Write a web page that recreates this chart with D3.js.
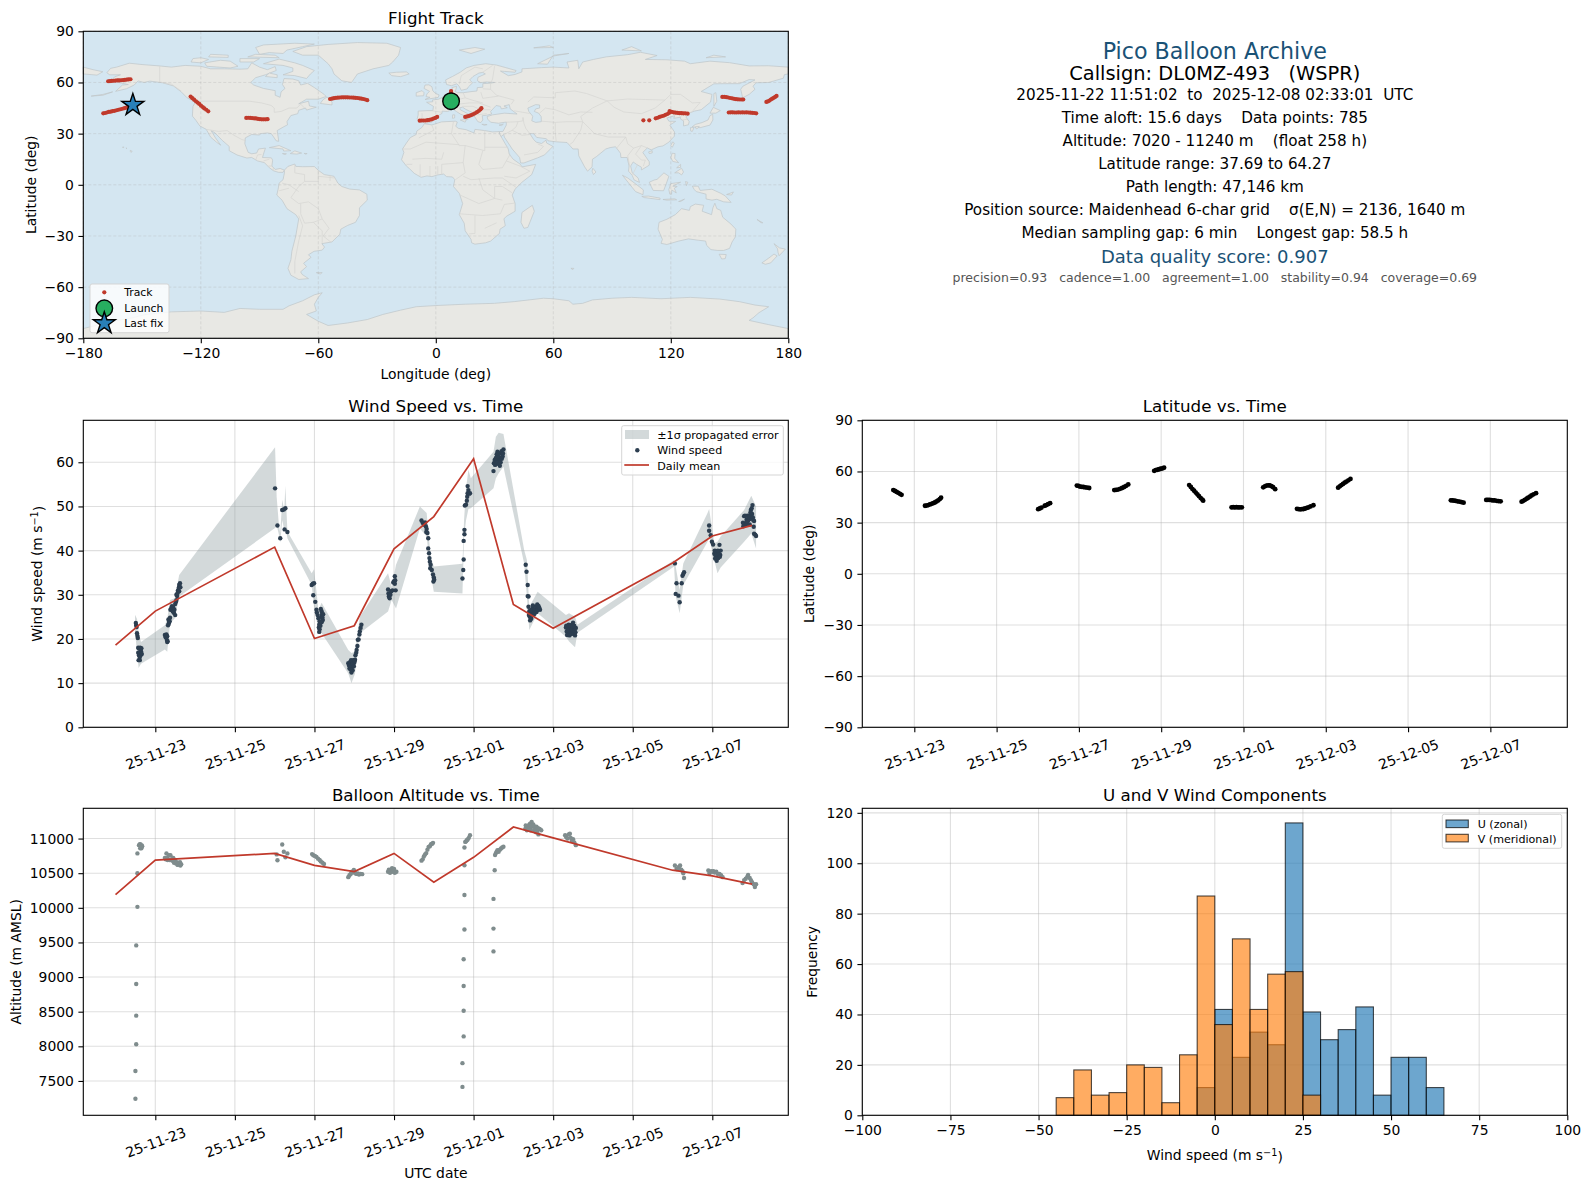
<!DOCTYPE html>
<html>
<head>
<meta charset="utf-8">
<title>Pico Balloon Archive</title>
<script src="https://cdn.jsdelivr.net/npm/d3@7"></script>
<style>
  html, body { margin: 0; padding: 0; background: #fff; }
  svg { display: block; font-family: "DejaVu Sans", sans-serif; }
  text { white-space: pre; }
</style>
</head>
<body>
<div id="chart"></div>
<script>
// times are fractional days after 2025-11-23 00:00 UTC
const dateTicks = ['2025-11-23', '2025-11-25', '2025-11-27', '2025-11-29', '2025-12-01', '2025-12-03', '2025-12-05', '2025-12-07']
const meanDays = [-1, 0, 3, 4, 5, 6, 7, 8, 9, 10, 13, 14, 15]
const meanWind = [18.6, 26.3, 40.8, 20.1, 23, 40.4, 47.7, 60.8, 27.8, 22.4, 37.2, 43.3, 45.7]
const meanAltitude = [10190, 10690, 10786, 10614, 10524, 10786, 10371, 10729, 11167, 11010, 10543, 10462, 10343]

const windPoints = [
  [-0.49,23.6],[-0.48,23.1],[-0.47,22.7],[-0.46,21.3],[-0.45,20.7],[-0.44,20.2],[-0.43,18],[-0.41,17.9],[-0.38,18],[-0.35,17.9],
  [-0.36,17.2],[-0.39,17],[-0.43,16.9],[-0.41,16.3],[-0.37,16.3],[-0.34,16.6],[-0.39,15.9],[-0.42,15.2],[-0.39,15.2],
  [0.24,20.9],[0.26,20.4],[0.28,21],[0.3,20.6],[0.29,19.8],[0.3,19.3],[0.31,19.5],[0.34,23.5],[0.32,23.1],[0.36,24],[0.33,24.4],[0.37,24.8],[0.35,23.9],
  [0.38,26.6],[0.4,26.9],[0.42,27.4],[0.45,27.1],[0.48,26.6],[0.5,27.9],[0.47,25.9],[0.5,25.4],[0.44,26.2],[0.52,28.4],[0.53,28.8],
  [0.55,29.7],[0.53,30],[0.56,30.4],[0.57,31],[0.59,31.6],[0.6,32.2],[0.62,32.6],[0.63,31.7],[0.6,30.8],
  [3.01,54.1],[3.07,45.7],[3.14,42.8],[3.19,49.2],[3.23,49.3],[3.27,49.6],[3.25,44.8],[3.32,44.2],
  [3.93,32.2],[3.96,32.5],[3.99,32.6],[3.97,29.9],[4.02,28.4],[4.05,26.6],[4.06,26],[4.08,25.4],[4.1,24.7],[4.13,24],[4.12,23.2],[4.11,22.6],
  [4.13,22.2],[4.12,21.6],[4.15,23],[4.17,25],[4.18,26.3],[4.19,25.6],[4.2,24.9],[4.22,25.6],[4.21,24.3],[4.18,23.8],[4.16,26.8],
  [4.85,14.5],[4.87,14],[4.88,13.3],[4.9,14.8],[4.92,14.1],[4.93,12.4],[4.96,12.9],[4.94,13.6],[4.97,14],[4.95,15],[4.98,15.2],[5,14.6],[5.02,15.3],
  [4.89,13.9],[4.91,13.1],[4.92,15.2],[4.96,14.4],[4.99,13.8],[5.01,15],
  [5.03,16.3],[5.05,16.9],[5.06,17.5],[5.08,18.4],[5.09,19.8],[5.11,19.9],[5.13,21],[5.14,21.7],[5.16,22.5],[5.18,23.2],
  [5.85,31.2],[5.86,30.3],[5.87,29.6],[5.89,29.2],[5.91,30],[5.93,30.8],[5.96,31],[6,33.1],[5.98,32.8],[6.02,32.5],[6.03,33.3],[6.02,34.2],[6.04,31],
  [6.69,46.8],[6.72,46.3],[6.75,45.9],[6.78,46.4],[6.8,45.5],[6.82,44.9],[6.81,44.2],[6.84,44],[6.86,42.8],[6.86,40.5],[6.88,39.4],[6.89,38.3],
  [6.9,37.5],[6.92,36.8],[6.91,36],[6.95,35.6],[6.98,34.6],[7,33.9],[6.99,33],[7.01,33.4],
  [7.72,33.7],[7.74,35.6],[7.75,38],[7.75,42.2],[7.77,43.7],[7.77,44.7],[7.78,50.2],[7.81,50.4],[7.83,51.3],[7.84,52.2],[7.85,53],[7.87,53.7],[7.85,54.6],[7.89,52.9],[7.91,53],
  [8.5,58],[8.51,59.8],[8.53,60.5],[8.56,60],[8.56,61],[8.58,61.8],[8.6,62.4],[8.61,60.6],[8.63,61.2],[8.65,60.3],[8.66,59.2],[8.67,62],[8.69,61],[8.7,62.5],[8.73,61.3],[8.75,62.9],
  [8.54,59.4],[8.57,59.6],[8.59,59.9],[8.62,62],[8.64,59.9],[8.68,60],[8.71,60.8],[8.74,62],
  [9.31,36.8],[9.33,35.2],[9.36,32.2],[9.36,29.7],[9.38,29.6],[9.38,27.3],[9.4,26.3],[9.42,24.2],[9.41,25],[9.44,25.7],[9.46,26.4],[9.48,26.9],[9.5,26.1],[9.53,26.7],[9.57,27.3],[9.6,27.8],[9.62,26.8],[9.67,26.6],
  [9.39,25.4],[9.43,26.5],[9.45,24.6],[9.47,25.5],[9.49,27.6],[9.52,25.6],[9.55,26.4],[9.58,26.1],[9.6,26.5],[9.63,27.5],[9.65,27.1],
  [10.32,22.6],[10.34,21.7],[10.36,22.9],[10.38,21],[10.4,22.3],[10.42,21.4],[10.44,22.6],[10.46,23.1],[10.48,21.3],[10.5,23.7],[10.52,22.2],[10.55,20.8],[10.57,22.5],
  [10.33,23],[10.35,20.9],[10.37,22],[10.39,23.2],[10.41,20.8],[10.43,23.1],[10.45,21.1],[10.47,22.1],[10.49,22.9],[10.51,21.2],[10.53,23],[10.54,21.9],[10.56,21.5],
  [13.06,37.1],[13.1,32.6],[13.08,30.2],[13.15,29.8],[13.18,28.3],[13.23,32.6],[13.25,34.3],[13.27,34.7],[13.29,35.1],
  [13.92,45.7],[13.92,44.5],[13.96,43.5],[13.99,42],[14.02,41.4],[14.05,39.3],[14.08,38.9],[14.11,37.7],[14.1,39.5],[14.13,38.4],[14.16,39.8],[14.18,41.3],[14.2,39],[14.21,40],
  [14.06,40],[14.07,38.2],[14.09,39.9],[14.12,39.2],[14.14,40],[14.15,38.3],[14.17,39.2],[14.19,38.6],
  [14.78,45.5],[14.8,47.8],[14.8,45.8],[14.84,46.2],[14.86,47],[14.88,47.9],[14.9,46.8],[14.93,47.1],[14.95,48.1],[14.97,49.2],[14.98,47.4],[15.01,50.3],[15,48.3],[15.05,46.7],[15.04,45.4],[15.05,43.8],[15.08,43.6],[15.1,43.3],
  [14.77,46.3],[14.82,47.9],[14.85,45.9],[14.87,46.5],[14.91,47.6],[14.94,45.9],[14.96,48.7],[14.99,49.6],[15.02,47.5],[15.03,46.9]
]

// [day, lower, upper] outline of the 1 sigma band
const windBand = [
  [-0.51,21.8,25.5],[-0.46,17,24.5],[-0.42,13.4,21.5],[-0.36,14.4,19.3],[0.24,17.6,23.1],[0.3,17.1,24.5],[0.37,23.5,28.8],[0.49,24.7,29.2],[0.6,29.6,34.5],
  [3.01,45.1,63.4],[3.05,45.8,52.2],[3.11,43.5,45.4],[3.14,41.8,44],[3.19,46.9,51.5],[3.24,44.7,49.2],[3.27,45.4,54.6],[3.32,42.8,44.3],
  [3.93,32.2,34.9],[3.99,27.3,35.8],[4.1,22,26.6],[4.18,21.3,28.2],[4.85,12.2,17.5],[4.93,10,16.8],[5.02,12.2,17.1],[5.14,21.3,25],[5.85,26.2,34.9],[5.94,28.8,31.8],[6.05,26.9,36.8],
  [6.65,45,50],[6.82,43.2,48.5],[6.92,34.9,38.6],[7,30.7,36.4],[7.72,30.3,37],[7.76,43,46.9],[7.81,46.9,54.1],[7.87,49.4,58.3],[7.93,49.6,56.4],[8.5,54.1,62.4],[8.56,56.4,65.8],[8.63,57.5,66.7],[8.75,59,66.4],
  [9.27,37.1,40.2],[9.34,29.6,37.9],[9.4,22,27.3],[9.61,25.8,30.7],[10.32,20.5,25.4],[10.4,19.4,25.8],[10.55,18.1,25],[10.61,21.4,23.2],[13.04,36.4,37.9],[13.08,29.6,36.4],[13.18,25.8,31.1],[13.27,32.2,37.1],
  [13.88,42,48.5],[13.92,43.2,49.4],[14.05,37.9,41.7],[14.13,34.9,42],[14.21,36.2,43.2],[14.8,42,49.2],[14.98,43.9,52.4],[15.1,40.5,50]
]

const altitudePoints = [
  [-0.5,7243],[-0.5,7643],[-0.48,8029],[-0.48,8443],[-0.48,8900],[-0.48,9457],[-0.45,10014],[-0.45,10500],[-0.45,10786],
  [-0.41,10905],[-0.39,10919],[-0.37,10914],[-0.36,10880],[-0.34,10900],[-0.38,10860],[-0.35,10860],[-0.33,10890],
  [0.24,10720],[0.26,10700],[0.28,10786],[0.3,10720],[0.31,10690],[0.34,10760],[0.36,10690],[0.38,10760],[0.4,10700],[0.43,10680],[0.45,10720],[0.47,10650],[0.5,10690],[0.52,10640],[0.54,10660],[0.56,10620],[0.6,10640],[0.62,10660],[0.63,10610],[0.65,10630],
  [3.05,10771],[3.07,10686],[3.19,10914],[3.23,10810],[3.27,10729],[3.32,10786],
  [3.94,10776],[3.97,10760],[4.01,10750],[4.05,10735],[4.09,10710],[4.13,10690],[4.16,10670],[4.2,10650],[4.24,10633],
  [4.85,10443],[4.88,10470],[4.91,10490],[4.94,10520],[4.97,10510],[4.99,10548],[5.02,10510],[5.05,10490],[5.09,10495],[5.12,10480],[5.16,10490],[5.2,10486],
  [5.85,10520],[5.87,10550],[5.9,10505],[5.92,10550],[5.95,10571],[5.97,10520],[6,10560],[6.02,10505],[6.06,10520],
  [6.69,10681],[6.72,10700],[6.75,10740],[6.78,10770],[6.81,10790],[6.84,10840],[6.87,10880],[6.9,10890],[6.93,10920],[6.96,10925],[6.98,10938],
  [7.72,7414],[7.72,7757],[7.75,8143],[7.75,8514],[7.75,8871],[7.75,9257],[7.77,9686],[7.77,10186],[7.77,10614],[7.77,10871],[7.79,10952],[7.81,10960],[7.83,10975],[7.85,10986],[7.88,11010],[7.91,11048],
  [8.5,9371],[8.5,9700],[8.5,10129],[8.53,10543],[8.54,10762],[8.56,10790],[8.58,10810],[8.6,10833],[8.63,10810],[8.66,10840],[8.69,10857],[8.72,10870],[8.75,10881],
  [9.3,11140],[9.33,11160],[9.35,11175],[9.37,11130],[9.4,11200],[9.42,11215],[9.44,11160],[9.46,11240],[9.48,11190],[9.5,11205],[9.53,11170],[9.55,11130],[9.58,11170],[9.6,11110],[9.63,11060],[9.66,11140],[9.7,11120],
  [9.31,11190],[9.34,11120],[9.39,11140],[9.43,11120],[9.45,11190],[9.52,11120],[9.57,11090],[9.62,11150],
  [10.3,11048],[10.33,11020],[10.36,11000],[10.39,11060],[10.42,11070],[10.44,11010],[10.47,10970],[10.5,10990],[10.53,10945],[10.57,10905],
  [13.06,10610],[13.1,10560],[13.13,10558],[13.16,10590],[13.19,10610],[13.22,10550],[13.25,10530],[13.27,10500],[13.29,10430],
  [13.9,10538],[13.93,10500],[13.97,10530],[14,10520],[14.03,10530],[14.06,10510],[14.1,10520],[14.14,10490],[14.18,10490],[14.22,10470],[14.26,10443],
  [14.76,10357],[14.8,10400],[14.84,10420],[14.88,10450],[14.9,10476],[14.94,10430],[14.97,10400],[15,10370],[15.04,10340],[15.07,10330],[15.07,10300],[15.1,10340]
]

const latitudePoints = [
  [-0.51,49.1],[-0.47,48.6],[-0.43,48],[-0.39,47.5],[-0.35,46.9],[-0.31,46.3],
  [0.26,39.9],[0.3,40],[0.34,40.3],[0.38,40.7],[0.42,41],[0.46,41.4],[0.5,41.8],[0.54,42.4],[0.58,43],[0.62,43.8],[0.65,44.6],
  [3.01,37.9],[3.05,38.3],[3.09,38.8],[3.17,39.9],[3.21,40.3],[3.25,40.8],[3.3,41.4],
  [3.95,51.7],[3.99,51.5],[4.03,51.1],[4.07,51],[4.11,50.9],[4.15,50.7],[4.2,50.5],[4.25,50.3],
  [4.86,49.1],[4.9,49.2],[4.95,49.4],[5,49.8],[5.05,50.3],[5.1,50.9],[5.15,51.6],[5.2,52.4],
  [5.83,60.4],[5.87,60.8],[5.91,61],[5.95,61.3],[5.99,61.6],[6.03,61.8],[6.07,62.2],
  [6.68,52],[6.72,50.9],[6.76,49.7],[6.8,48.7],[6.84,47.6],[6.88,46.6],[6.92,45.5],[6.96,44.4],[7,43.5],[7.02,42.9],
  [7.71,39],[7.75,39.1],[7.79,39],[7.83,39.1],[7.87,39],[7.91,39],[7.96,39],
  [8.48,50.7],[8.52,51.3],[8.56,51.7],[8.6,51.9],[8.64,51.8],[8.68,51.4],[8.72,50.8],[8.77,49.6],
  [9.3,38.1],[9.34,37.9],[9.38,37.8],[9.42,37.9],[9.46,38],[9.5,38.3],[9.54,38.7],[9.58,39],[9.63,39.5],[9.7,40.2],
  [10.3,50.5],[10.34,51.3],[10.38,52],[10.42,52.7],[10.46,53.4],[10.5,54],[10.55,54.8],[10.6,55.6],
  [13.04,43.1],[13.08,43],[13.12,42.9],[13.16,42.7],[13.2,42.5],[13.25,42.3],[13.3,42],[13.35,41.7],
  [13.9,43.3],[13.94,43.3],[13.98,43.3],[14.02,43.2],[14.06,43],[14.1,43],[14.15,42.8],[14.2,42.6],[14.25,42.5],
  [14.76,42.3],[14.8,42.8],[14.84,43.4],[14.88,44],[14.92,44.6],[14.96,45.2],[15,45.9],[15.05,46.6],[15.11,47.3]
]

// [lon, lat]
const trackPoints = [
  [-167.3,60.7],[-166.4,60.8],[-165.5,60.9],[-164.5,61],[-163.6,61.1],[-162.6,61.2],[-161.7,61.2],[-160.7,61.3],[-159.7,61.4],[-158.8,61.5],[-157.8,61.7],[-156.9,61.8],[-155.9,61.9],
  [-169.8,41.9],[-168.9,42.1],[-168,42.4],[-167,42.7],[-166,42.9],[-165,43.2],[-164,43.4],[-163,43.7],[-162,44],[-161,44.3],[-160,44.6],[-159,44.9],[-158,45.2],[-157,45.5],[-156,45.9],
  [-125.2,51.7],[-124.3,50.8],[-123.4,49.9],[-122.5,49],[-121.7,48.2],[-120.8,47.4],[-119.9,46.4],[-119,45.6],[-118.2,44.8],[-117.2,44],[-116.2,43.1],
  [-96.8,39.2],[-95.8,39.3],[-94.8,39.2],[-93.8,39.1],[-92.8,39],[-91.8,38.9],[-90.8,38.6],[-89.8,38.5],[-88.8,38.4],[-87.8,38.4],[-86.8,38.4],[-85.9,38.5],
  [-54,50.3],[-53,50.5],[-52,50.8],[-51,51],[-50,51.1],[-49,51.2],[-48,51.3],[-47,51.3],[-46,51.3],[-45,51.3],[-44,51.2],[-43,51.2],[-42,51.1],[-41,51],[-40,50.9],[-39,50.7],[-38,50.5],[-37,50.3],[-36,50],[-35,49.6],
  [-8.2,37.6],[-7.2,37.7],[-6.2,37.7],[-5.2,37.7],[-4.2,37.9],[-3.2,38.1],[-2.2,38.4],[-1.2,38.8],[-0.2,39.2],[0.7,39.8],
  [7.8,55],[7.8,54.2],[7.8,53.4],
  [15,39.8],[16,40.1],[17,40.4],[18,40.8],[19,41.3],[20,41.9],[21,42.6],[22,43.4],[22.8,44.2],[23.3,44.9],
  [106,37.8],[109,37.8],[112.3,39],[113.3,39.3],[114.3,39.8],[115.3,40.2],[116.3,40.5],[117.3,41],[118.3,41.5],[119.2,42.2],[119.4,43.2],[120.4,42.8],[121.4,42.5],[122.4,42.3],[123.4,42.2],[124.4,42],[125.4,42],[126.4,41.9],[127.4,41.9],[128.6,41.7],
  [146.3,51.5],[147.3,51.6],[148.3,51.4],[149.3,51.2],[150.3,50.9],[151.3,50.7],[152.3,50.4],[153.3,50.2],[154.3,50.1],[155.3,50],[156.3,50],[157,50],
  [149.6,42.4],[150.6,42.5],[151.6,42.5],[152.6,42.4],[153.6,42.4],[154.6,42.5],[155.6,42.4],[156.6,42.5],[157.6,42.4],[158.6,42.5],[159.6,42.4],[160.6,42.3],[161.6,42.2],[162.6,42.1],[163.6,41.9],
  [168.8,48.6],[169.6,48.9],[170.4,49.4],[171.1,50],[171.8,50.5],[172.6,51],[173.3,51.5],[174,52.1]
]
const launchPoint = [7.8, 49]
const lastFixPoint = [-154.7, 46.8]

// histogram, 5 m/s bins
const histEdges = [-45,-40,-35,-30,-25,-20,-15,-10,-5,0,5,10,15,20,25,30,35,40,45,50,55,60]
const uCounts = [0,0,0,0,0,0,0,0,11,42,23,33,28,116,41,30,34,43,8,23,23,11]
const vCounts = [7,18,8,9,20,19,5,24,87,36,70,42,56,57,8,0,0,0,0,0,0,0]

const infoLines = [
  ['Pico Balloon Archive', 51, 22.2, '#1a5276'],
  ['Callsign: DL0MZ-493   (WSPR)', 73, 19.4, '#000'],
  ['2025-11-22 11:51:02  to  2025-12-08 02:33:01  UTC', 94.3, 15.2, '#000'],
  ['Time aloft: 15.6 days    Data points: 785', 117.3, 15.2, '#000'],
  ['Altitude: 7020 - 11240 m    (float 258 h)', 140.3, 15.2, '#000'],
  ['Latitude range: 37.69 to 64.27', 163.3, 15.2, '#000'],
  ['Path length: 47,146 km', 186.3, 15.2, '#000'],
  ['Position source: Maidenhead 6-char grid    σ(E,N) = 2136, 1640 m', 209.3, 15.2, '#000'],
  ['Median sampling gap: 6 min    Longest gap: 58.5 h', 232.3, 15.2, '#000'],
  ['Data quality score: 0.907', 257, 18, '#1a5276'],
  ['precision=0.93   cadence=1.00   agreement=1.00   stability=0.94   coverage=0.69', 277.7, 12.5, '#555555']
]

// rough world outline, [lon, lat]
const landShapes = [
  // north america
  [[-168,65.7],[-166,68.3],[-163,69],[-156.5,71.3],[-150,70.5],[-141,69.7],[-135,69],[-128,70],[-120,69.5],[-115,68],[-108,68],[-100,67.8],[-96,68],[-94,71.5],[-90,69],[-86,67.5],[-82,69.3],[-81.5,67],[-87,64.5],[-92,62.8],[-94.5,60],[-93,58.5],[-88,56.5],[-82,55.2],[-82,52.5],[-79.5,51.3],[-79,54.5],[-77,56.5],[-78.3,58.8],[-77.5,62.3],[-73,62],[-70,61],[-69,58.5],[-65.5,59.5],[-62,57],[-57,53],[-56,51.8],[-60,50.2],[-66,50.2],[-70,47.5],[-65,49],[-64.5,46.2],[-61,45.5],[-66,43.8],[-66.5,45],[-70,43.7],[-70.5,41.7],[-74,40.6],[-76,37],[-75.7,35.2],[-78,33.8],[-81,31.8],[-80.5,28],[-80.2,25.5],[-81.5,25.8],[-82.8,28],[-84,30],[-86,30.4],[-89.5,30],[-90,29.2],[-94,29.5],[-97.3,27.5],[-97.5,24],[-95.8,19],[-94,18.2],[-91.5,18.6],[-90.5,21],[-87,21.5],[-88,18],[-88.5,16],[-84,15.8],[-83.3,14.5],[-83.7,11],[-82,9],[-79.5,9.6],[-77.3,8.6],[-78,7.3],[-80.3,7.3],[-82.8,8.2],[-85,10],[-87.5,13],[-91,14],[-94,16],[-96.5,15.7],[-101.5,17.5],[-105.5,20],[-105.5,22.5],[-109,26],[-112.8,30.5],[-114.7,31.7],[-112.5,27.5],[-109.8,23.2],[-112,25],[-115,28],[-117.2,32.5],[-120.5,34.5],[-122.5,37.8],[-124.3,40.3],[-124,46],[-122.7,48.5],[-127,51],[-130,54.5],[-134,58],[-139.5,59.8],[-146,60.8],[-149,60],[-152,60.9],[-154,58.5],[-158,56.3],[-163.5,54.8],[-160,58.5],[-157,58.8],[-162,60],[-165.5,61.5],[-164,63.3],[-161,64.5],[-166.5,64.5]],
  // south america
  [[-77.3,8.6],[-75.5,10.8],[-72,12.2],[-71.5,10.8],[-68,10.6],[-62,10.7],[-60,8.5],[-57,6],[-52,5],[-50,1],[-48,-1],[-44,-2.5],[-39,-3],[-35.2,-5.5],[-35,-9],[-39,-13.5],[-39,-18],[-41,-22],[-45,-23.8],[-48.5,-26],[-49,-29],[-53,-33.5],[-58.2,-34.5],[-56.8,-36.5],[-58,-38.3],[-62.2,-39],[-65,-41],[-63.7,-42.5],[-67.5,-46],[-66,-48],[-69,-51],[-68.3,-52.5],[-65,-55],[-70,-55.5],[-74,-53],[-75.5,-49],[-74,-44],[-73.5,-39],[-71.5,-30],[-70,-20],[-71.5,-17.5],[-76,-14],[-78.5,-9],[-81.2,-6],[-80.5,-2.5],[-80,1],[-78,3],[-77.3,7]],
  // eurasia
  [[-9.5,38.7],[-9,41],[-9,43.2],[-4,43.5],[-1.5,43.5],[-1.2,46],[-4.7,48.4],[-1.5,48.7],[-1.8,49.7],[1.5,50.2],[3.5,51.4],[4.8,53],[8,53.6],[8.6,55.5],[8.2,57],[10.6,57.7],[10.3,56],[9.8,54.8],[11,54],[14,54],[18.5,54.7],[21,55],[21.2,57],[24,57.2],[24,59.3],[28,59.6],[30,60],[26,60.3],[22.8,59.9],[21.3,61],[21.5,63],[25.3,65],[24,65.9],[22,65.5],[19,63.5],[17.3,61.5],[18.8,59.8],[16.7,57.5],[16,56.2],[13,55.4],[11.8,58],[10.7,59.2],[8,58.1],[5.5,58.8],[5,61.5],[8.5,63.5],[12.5,66],[15.5,68.5],[19.5,70],[25.5,71],[31,70.2],[41,67],[40.5,66],[35,66.5],[33,66.7],[37,64],[40.5,64.7],[44,66.2],[44,68],[54,68.7],[60,69],[68,68.5],[67,72],[72.5,73],[73,68],[75,72],[80.5,73.5],[87,75],[98,76.3],[104.5,77.7],[113,75.8],[107,73.5],[118,73.3],[127,72.5],[130,71],[140,72.5],[150,71.6],[160,69.7],[170,69.8],[180,69],[180,65],[178,64.6],[177.5,62.5],[170,60],[163.5,59.8],[162,57.8],[163,56],[160,53],[156.7,51],[155.7,56],[156.8,57.8],[163,61.5],[160,61.7],[155,59.3],[148,59.3],[142,59.2],[135.5,54.7],[141,53],[140.3,48.5],[135.5,44],[132,43.2],[130,42.3],[127.7,39.8],[129.4,37],[129,35.2],[126.5,34.5],[126.5,37.5],[125,38.5],[125,39.6],[121.5,39],[122,40.5],[118,39.2],[119,37.3],[122.5,37.2],[119.5,35],[121.9,31],[121.8,28.5],[119,25],[116,22.8],[113.5,22.3],[110,20.5],[108,21.6],[105.7,19],[109,13.5],[109,11.5],[105,8.7],[105,10.3],[102.5,12],[100.8,13.4],[99.5,11],[100.3,7],[103.3,4],[104,1.4],[101.3,2.8],[100.3,5.5],[98.4,8],[98.7,11],[97.7,16],[94.5,16],[94.3,18.5],[91.8,22.3],[89,21.8],[86.8,21],[82,16.5],[80,15],[79.8,10.5],[77.5,8],[76,10.5],[73,17],[72.7,21],[70,21],[69,22.3],[67,24.8],[61.5,25.2],[57.3,25.8],[56.5,27],[51.5,27.8],[50,30],[48,30],[50,26.5],[51.3,25],[54,24.2],[56.3,26.2],[56.6,24.5],[59.8,22.5],[55.5,17.5],[52,15.8],[45,12.8],[43.3,12.8],[42.8,16],[39,21],[35,28],[34.7,29.5],[33,28],[32.5,30],[32.5,31.2],[34.3,31.3],[36,35],[36,36.8],[32,36.1],[28,36.7],[26.5,38.5],[26.2,40],[29,41],[35,42],[41.5,41.5],[38,44.5],[37.5,47],[34.8,46.2],[36.5,45.2],[33.5,44.5],[33,46],[30.8,46.5],[28,43],[28.5,41.5],[26,40.8],[23.7,40.5],[24,38],[23,36.5],[21.5,37],[19.5,40.5],[19.4,42],[15.2,44.3],[13.7,45.5],[12.3,45.2],[12.5,44],[16,41.9],[18.5,40.2],[16.8,40],[17,38.9],[15.7,38],[15.8,40],[12.5,41.5],[10.5,43],[8.8,44.4],[6,43],[3.2,43.2],[3.2,41.9],[0,39.8],[-0.5,38.3],[-2,36.8],[-5.5,36],[-6.5,37],[-9,37]],
  // africa
  [[-5.9,35.8],[-2,35.1],[3,36.9],[10,37.3],[11,36.8],[10.2,34.3],[11.5,33.1],[15.5,32.3],[19.5,30.4],[20,32.5],[25,31.8],[29,31],[32.5,31.2],[32.5,29.9],[34,27],[37,21],[37.5,18],[39.5,15],[43.2,12],[44,10.5],[51,12],[49,6],[44,1.5],[40.5,-2.5],[39,-6],[40.5,-11],[40.5,-15.5],[36,-18.5],[34.8,-20],[35.5,-24],[32.8,-26],[32.5,-28.5],[28,-33],[25.5,-34],[20,-34.8],[18.3,-34],[18,-32],[15,-27],[14.5,-22.5],[12,-17.5],[13.7,-11],[12,-5],[9,-1],[9.7,3],[8.5,4.6],[5.5,4.8],[4,6.3],[1,5.8],[-2,4.8],[-4.5,5.2],[-7.5,4.4],[-11,6.7],[-13.5,9.5],[-15,11],[-17.5,14.7],[-16.3,19],[-17,21],[-15,24.5],[-13,27.7],[-10,29.5],[-9.7,31.5],[-7,33.7]],
  // australia and nearby
  [[114,-22],[113.5,-26],[115.7,-32],[115,-34.3],[118,-35],[124,-33],[129,-31.7],[134,-32.5],[137.8,-33],[138.3,-35.5],[140.5,-38],[144,-38.5],[147,-38.5],[150,-37.3],[151.3,-33.5],[153,-30.5],[153.2,-26],[150.7,-23],[146.5,-19],[145.5,-15],[143.5,-14],[142.5,-10.8],[141.5,-13.5],[140.8,-17.5],[136,-15.5],[136.8,-12],[132.5,-11.3],[130,-12.8],[129.5,-15],[125.5,-14],[122.3,-17.5],[118,-20.2]],
  [[144.7,-40.7],[148.3,-40.9],[147.8,-43.3],[146,-43.5]],
  [[172.7,-34.5],[175.5,-37],[178.5,-37.7],[175.3,-41.6],[174.8,-39.8],[174.5,-37.5]],
  [[172.7,-40.6],[174.3,-41.7],[171,-45.8],[168.3,-46.6],[166.5,-45.8],[170,-43]],
  [[164,-20.3],[167,-22.3],[166,-22.2]],
  // antarctica
  [[-180,-84.3],[-165,-80],[-155,-78],[-148,-76],[-135,-74.5],[-120,-74],[-108,-74.8],[-100,-72.5],[-90,-73],[-78,-73],[-75,-71],[-68,-68],[-62,-64.5],[-58,-63.3],[-60,-66],[-62,-70],[-61,-74],[-66,-76],[-60,-80],[-55,-82.5],[-45,-81],[-35,-79],[-27,-76],[-18,-73.5],[-10,-71.5],[0,-70.8],[15,-70],[30,-69.5],[40,-68.5],[55,-66.5],[60,-66.8],[68,-68],[70,-70],[75,-69.5],[80,-67.5],[90,-66.5],[100,-66],[115,-66.8],[130,-66],[145,-67],[155,-68.5],[163,-70.5],[170,-71.5],[165,-75],[162,-78],[160,-79.5],[170,-82],[180,-84.3],[180,-90],[-180,-90]],
  // arctic and atlantic islands
  [[-73,78.2],[-66,81],[-55,82.3],[-40,83.4],[-25,83],[-18,80.5],[-19,76],[-22,72],[-24,70],[-32,68],[-40,65],[-43,60],[-48,61],[-52,65],[-53,68],[-55,71],[-60,76],[-68,76]],
  [[-80,73.7],[-72,71.5],[-68,70],[-62,67],[-64,65],[-66,62.3],[-72,64],[-78,64.5],[-73,66.5],[-73,68.5],[-78,70],[-88,71]],
  [[-90,76.5],[-85,77.5],[-78,77],[-76,79],[-68,81],[-62,82.5],[-72,83],[-88,82],[-92,80.5]],
  [[-117,69.5],[-105,68.5],[-101,69.5],[-105,72.5],[-110,73],[-118,71.5]],
  [[-125,72],[-120,71.5],[-116,73.5],[-120,74.5],[-124,74]],
  [[-96,75],[-80,74.5],[-82,76],[-92,76.5]],
  [[-100,72],[-93,72],[-90,74],[-100,74]],
  [[-116,75],[-106,74.7],[-106,76],[-115,76.5]],
  [[-87,63.5],[-81,62.8],[-81,64.5],[-85,65.5]],
  [[-59,47.7],[-53,46.8],[-53,48.5],[-55.5,51.5],[-57.5,50]],
  [[-24,65.5],[-20,66],[-15,66.2],[-13.6,65],[-18,63.4],[-22.5,64]],
  [[-5.5,50],[1.2,51.2],[1.7,52.7],[0,53.5],[-1.5,55],[-2,57.5],[-3.5,58.6],[-5.5,58.5],[-6,56.5],[-3.2,54.8],[-4.5,53.3],[-5,51.7],[-3,51.3]],
  [[-10,52],[-6.2,52.2],[-6,54],[-7,55.2],[-10,54]],
  [[12,79],[18,77],[25,79.5],[20,80.5]],
  [[52,71],[57,70.7],[60,76],[68,77],[60,75.5]],
  [[50,80.3],[60,80.5],[58,81.5]],
  [[95,79],[105,78.5],[100,81]],
  [[138,74.5],[148,75],[142,76]],
  [[-180,69],[-175,67.5],[-170,66.3],[-173,64.3],[-180,65]],
  // caribbean, pacific
  [[-85,21.8],[-80,23],[-74,20],[-77.7,19.8],[-78,21]],
  [[-74.3,18.3],[-72,19.9],[-68.5,18.6],[-71,18]],
  [[-78.3,18.3],[-76.3,18.2],[-77,17.8]],
  [[-67.2,18.4],[-65.7,18.3],[-66.5,18]],
  [[-156,20.2],[-155,19.6],[-155.7,19],[-156,19.6]],
  [[-160,22],[-159.3,22.2],[-159.4,21.8]],
  [[-158.2,21.6],[-157.7,21.4],[-158,21.3]],
  [[-176,52],[-170,53],[-165,54.5],[-170,52.5]],
  [[-61,-51.5],[-58,-51.5],[-59,-52.3]],
  [[69,-49],[70.5,-49],[70,-49.7]],
  [[44,-16.2],[49.3,-12],[50.3,-15.5],[47,-25],[45,-25.5],[43.5,-22]],
  [[8.6,41],[9.7,41],[9.6,39.2],[8.5,39]],
  [[12.5,38],[15.5,38.2],[15,36.7]],
  [[23.5,35.5],[26.2,35.3],[24.8,34.9]],
  [[32.3,35],[34.5,35.6],[33.6,34.7]],
  // east asia and indonesia
  [[142,46],[143.5,49],[143,54],[142,53.5],[142,49]],
  [[130.9,34],[135,33.5],[140,35],[141.5,38],[141.4,41.4],[140,40.5],[139,38],[136,36.5],[132.5,35.4]],
  [[140,42],[141.7,45.4],[145.3,43.5],[143,42]],
  [[130,33.5],[131.8,33.5],[131,31.3],[130.2,31.5]],
  [[132.5,34],[134.5,34.2],[134,33.3],[133,32.8]],
  [[120,23],[121,25.2],[121.8,24.5],[120.8,22]],
  [[108.7,19.3],[110.5,20],[110.5,18.7],[109,18.3]],
  [[120,16],[120.7,18.5],[122.2,18.3],[122,15.5],[124,13],[121,13.7]],
  [[122,7],[125.5,9.7],[126.5,7.5],[125.5,5.8],[124,7]],
  [[123,10],[125,12],[125,10.2]],
  [[109,1.5],[111.5,2.8],[113,3.2],[116.5,7],[119,5],[117.8,1],[116.3,-3.5],[111,-3.3],[110,-1]],
  [[95.3,5.6],[98,4],[103.8,-1],[106,-3],[105.8,-5.8],[102,-4],[98.5,1]],
  [[105.2,-6.8],[108.5,-6.6],[114.5,-7.8],[114.5,-8.7],[106.5,-7.5]],
  [[119.5,-5.5],[119,-2.8],[120,0.7],[125,1.5],[121,-0.8],[123.3,-1],[121.8,-2],[122.8,-4.8],[120.5,-3],[120.4,-5.5]],
  [[131,-0.8],[134,-0.8],[135,-3.3],[141,-2.6],[145.5,-5],[147.8,-6.5],[150.8,-10.3],[147,-10],[143.5,-8.5],[141,-9],[138,-8.3],[138,-5.5],[133,-4],[132,-2.8]],
  [[148.5,-5.7],[152,-4.2],[151,-6]],
  [[116,-8.6],[122,-8.2],[123,-8.8],[118,-9]],
  [[124,-9.8],[127,-8.4],[125,-9.8]],
  [[127.5,1.9],[128.7,1.5],[128,-0.5]],
  [[79.8,8],[80.2,9.7],[81.8,7.5],[80.5,6]]
]

const seaShapes = [
  [[47,45],[51,47],[53,46.8],[53,45],[51,44.5],[50.3,43],[52.5,42],[53.8,40],[53.9,37],[51,36.6],[49,37.5],[49.5,40.2],[47.5,43]]
]

const borderLines = [
  [[-141,69.7],[-141,60.3],[-135,59],[-130,55]],
  [[-123,49],[-95,49],[-89,48],[-84,46.5],[-82.5,45],[-82.5,42.5],[-79,43],[-75,45],[-71,45],[-69,47.3],[-67,45]],
  [[-117,32.5],[-111,31.3],[-106.5,31.8],[-103,29],[-99,26.5],[-97.2,26]],
  [[-92,14.5],[-91,17.5],[-89,17.8]],[[-88,14],[-85,15]],[[-85.5,11],[-83.7,11]],[[-83,8.3],[-83,10]],
  [[-51.7,4],[-60,5],[-60,2],[-67,2],[-70,-1],[-74,-7.5],[-70,-11],[-65,-10],[-60,-14],[-58,-20],[-54.5,-25.5],[-57.5,-30],[-53.5,-33.7]],
  [[-70,-18],[-68,-24],[-70,-33],[-72,-45],[-72,-52]],
  [[-78.5,1],[-75,0],[-70,-4]],[[-72,11.5],[-72,7],[-67,6],[-67,2]],[[-69,-11],[-69,-17],[-67,-22.5],[-62.5,-22],[-58,-20]],
  [[-60,5],[-60,8.5]],[[-54,2.3],[-54,5.8]],[[-80,-3.5],[-75,-2]],[[-62.5,-22],[-58,-27],[-58,-34]],
  [[-8.7,27.5],[-1,32],[-2,35]],[[9,37],[8,30],[12,23],[15,23],[25,20],[25,31.5]],[[25,22],[37,22]],
  [[24,20],[22,12],[24,9],[34,10],[36,14],[38,18]],[[-17,21],[-13,21],[-5,25],[12,23.5]],[[-12,15],[-5,15.5],[3,15],[4,19]],
  [[3,6],[3,12],[14,13],[15,23]],[[14,13],[15,7],[10,3]],[[14,5],[18,3],[30,4],[34,4],[41,-1.5]],
  [[12,-5.8],[22,-11],[30,-8],[30,-1],[34,-1],[39,-4.7]],[[12,-17],[24,-18],[33,-17],[35,-11.5],[40.5,-10.7]],
  [[20,-18],[20,-28.5],[17,-28.8]],[[25,-25.5],[31,-22.3]],[[36,14],[43,11],[48,8],[41,4],[35,5]],
  [[-8,12],[-8,5]],[[-3,5],[-3,11]],[[1,6],[1,11]],[[-12,12],[-15,12]],[[22,4],[24,-3],[30,-8]],[[30,-8],[34,-9]],
  [[30,69.5],[29,62],[28,59.7],[28,56],[31,52.5],[40,49.7],[38.5,47.2]],[[40,43.4],[48,41.8]],
  [[47,48.5],[50,51.5],[61,51],[61,54],[71,55],[77,53.5],[87.5,49.2],[98,50.3],[107,50],[117,49.7],[120,53],[125,53],[131,48],[135,48.3],[131,43],[130.5,42.5]],
  [[87.5,49.2],[91,45.5],[96,42.7],[105,41.7],[112,45],[117,49.7]],
  [[87.5,49.2],[80,45],[74,40],[75,37],[79,32.5],[81,30],[88,28],[97,28],[98,24],[101,21.5],[105,23],[108,21.6]],
  [[53,42],[56,45],[61,44],[68,41],[74,42.7],[80,42.5]],[[44.5,39.5],[45,36],[46,33],[48,30]],[[61,36.6],[61,31],[61.5,25.2]],
  [[54,37.3],[61,36.6],[67,37],[75,37]],[[75,37],[74,32],[70,25],[68.5,23.7]],[[35,29.5],[39,32],[44,29],[48,29.5]],
  [[45,17.5],[52,19],[55,22.5],[52,24]],[[36,36.7],[42,37],[44.5,37.5],[44.5,39.5]],[[39,32],[41,34],[42,37]],
  [[92,21],[94.5,24.5],[97,28]],[[101,21.5],[100,20],[98,17],[99,11]],[[105,23],[102,18],[105,14.5],[107,14.5],[106,11]],[[100.5,6],[103,11.8]],
  [[-1.8,43.4],[3.2,42.5]],[[-7,42],[-7,37.2]],[[2.5,51],[8,49],[7.5,44]],[[6,51],[7,53.5]],[[15,51],[14,54]],[[15,51],[19,49.5],[24,48]],
  [[13,47.5],[17,48],[22,48],[28,45.5]],[[13.7,46],[19,46],[23,44],[28,44]],[[23,54.3],[24,50.7],[32,52]],[[21,41],[26,41.7]],[[24,56.3],[28,56]],
  [[12,59],[13,64],[20,69]],[[29,70],[24,66]],[[20,69],[24,68]],[[8,49],[15,51]],[[7.5,47.5],[13,47.5]],[[124.5,40],[130,42.5]],[[126,38],[128.5,38.5]]
]

const width = 1589
const height = 1189
const leftCol = { x: 83.3, w: 705 }
const rightCol = { x: 862.3, w: 705 }
const panelH = 307
const rows = [31.3, 420.3, 808.3]

const red = '#c0392b'
const gridColor = '#b0b0b0'
const tickFont = 13.9
const legendFont = 11.1

const day0 = Date.UTC(2025, 10, 23)
const toDate = t => new Date(day0 + t * 864e5)
const parseDay = d3.utcParse('%Y-%m-%d')
const tickDates = dateTicks.map(parseDay)
const formatDay = d3.utcFormat('%y-%m-%d')

const svg = d3.select('#chart').append('svg')
  .attr('width', width)
  .attr('height', height)
  .attr('viewBox', `0 0 ${width} ${height}`)

svg.append('rect').attr('width', width).attr('height', height).attr('fill', '#fff')

function addText(parent, str, x, y, size, opts = {}) {
  return parent.append('text')
    .attr('x', x)
    .attr('y', y)
    .attr('dy', '0.36em')
    .attr('font-size', size)
    .attr('text-anchor', opts.anchor || 'middle')
    .attr('fill', opts.fill || '#000')
    .attr('transform', opts.rotate ? `rotate(${opts.rotate},${x},${y})` : null)
    .text(str)
}

// y label with a superscript -1 in the unit
function addWindLabel(parent, x, y, rotate) {
  const t = addText(parent, 'Wind speed (m s', x, y, tickFont, { rotate })
  t.append('tspan').attr('font-size', 9.7).attr('dy', '-0.45em').text('−1')
  t.append('tspan').attr('dy', '0.45em').text(')')
}

// axes: grid, ticks, labels; returns the layers to draw into
function makePanel(col, top, xScale, yScale, o) {
  const g = svg.append('g')
  const left = col.x
  const bottom = top + panelH

  const gridG = g.append('g')
  const dash = o.gridDash || null
  gridG.selectAll('.gx').data(o.xTicks).join('line')
    .attr('x1', d => xScale(d)).attr('x2', d => xScale(d))
    .attr('y1', top).attr('y2', bottom)
    .attr('stroke', gridColor).attr('stroke-opacity', o.gridOpacity || 0.4)
    .attr('stroke-width', o.gridWidth || 1.1).attr('stroke-dasharray', dash)
  gridG.selectAll('.gy').data(o.yTicks).join('line')
    .attr('x1', left).attr('x2', left + col.w)
    .attr('y1', d => yScale(d)).attr('y2', d => yScale(d))
    .attr('stroke', gridColor).attr('stroke-opacity', o.gridOpacity || 0.4)
    .attr('stroke-width', o.gridWidth || 1.1).attr('stroke-dasharray', dash)

  const marks = g.append('g')

  const axisX = g.append('g').attr('transform', `translate(0,${bottom})`)
    .call(d3.axisBottom(xScale).tickValues(o.xTicks).tickFormat(o.xFormat)
      .tickSizeInner(4.9).tickSizeOuter(0).tickPadding(4.5))
  const axisY = g.append('g').attr('transform', `translate(${left},0)`)
    .call(d3.axisLeft(yScale).tickValues(o.yTicks).tickFormat(o.yFormat || d3.format('d'))
      .tickSizeInner(4.9).tickSizeOuter(0).tickPadding(4.5))
  for (const a of [axisX, axisY]) {
    a.select('.domain').remove()
    a.selectAll('line').attr('stroke', '#000').attr('stroke-width', 1.1)
    a.selectAll('text').attr('font-size', tickFont).attr('font-family', '"DejaVu Sans", sans-serif').attr('fill', '#000')
  }
  if (o.slanted) {
    axisX.selectAll('text')
      .attr('y', 27).attr('dy', '0.36em').attr('text-anchor', 'middle')
      .attr('transform', 'rotate(-20,0,27)')
  }

  g.append('rect')
    .attr('x', left).attr('y', top).attr('width', col.w).attr('height', panelH)
    .attr('fill', 'none').attr('stroke', '#000').attr('stroke-width', 1.1)

  addText(g, o.title, left + col.w / 2, o.titleY, 16.7)
  return { g, marks }
}

const signed = d => String(d).replace('-', '−')

// --- Flight track
const lonScale = d3.scaleLinear().domain([-180, 180]).range([leftCol.x, leftCol.x + leftCol.w])
const latMapScale = d3.scaleLinear().domain([-90, 90]).range([rows[0] + panelH, rows[0]])
const mapTicksX = d3.range(-180, 181, 60)
const mapTicksY = d3.range(-90, 91, 30)

const mapBack = svg.append('rect')
  .attr('x', leftCol.x).attr('y', rows[0]).attr('width', leftCol.w).attr('height', panelH)
  .attr('fill', '#d4e6f1')

const landLine = d3.line().x(d => lonScale(d[0])).y(d => latMapScale(d[1]))
const closedLine = d3.line().x(d => lonScale(d[0])).y(d => latMapScale(d[1])).curve(d3.curveLinearClosed)

const landG = svg.append('g')
landG.selectAll('.land').data(landShapes).join('path')
  .attr('d', closedLine)
  .attr('fill', '#e8e8e4')
  .attr('stroke', '#bfc5c8')
  .attr('stroke-width', 0.7)
  .attr('stroke-linejoin', 'round')
landG.selectAll('.sea').data(seaShapes).join('path')
  .attr('d', closedLine)
  .attr('fill', '#d4e6f1')
  .attr('stroke', '#bfc5c8')
  .attr('stroke-width', 0.7)
landG.selectAll('.border').data(borderLines).join('path')
  .attr('d', landLine)
  .attr('fill', 'none')
  .attr('stroke', '#d6d6d2')
  .attr('stroke-width', 0.7)

const mapPanel = makePanel(leftCol, rows[0], lonScale, latMapScale, {
  title: 'Flight Track', titleY: 17.5,
  xTicks: mapTicksX, yTicks: mapTicksY,
  xFormat: signed, yFormat: signed,
  gridDash: '3,2', gridOpacity: 0.45, gridWidth: 0.7
})
addText(mapPanel.g, 'Longitude (deg)', leftCol.x + leftCol.w / 2, 374, tickFont)
addText(mapPanel.g, 'Latitude (deg)', 31, rows[0] + panelH / 2, tickFont, { rotate: -90 })

mapPanel.marks.selectAll('.track').data(trackPoints).join('circle')
  .attr('cx', d => lonScale(d[0])).attr('cy', d => latMapScale(d[1]))
  .attr('r', 2.1).attr('fill', red)
mapPanel.marks.append('circle')
  .attr('cx', lonScale(launchPoint[0])).attr('cy', latMapScale(launchPoint[1]))
  .attr('r', 8.3).attr('fill', '#27ae60').attr('stroke', '#000').attr('stroke-width', 1.4)
const starPath = d3.symbol().type(d3.symbolStar).size(150)
mapPanel.marks.append('path')
  .attr('d', starPath)
  .attr('transform', `translate(${lonScale(lastFixPoint[0])},${latMapScale(lastFixPoint[1])})`)
  .attr('fill', '#2980b9').attr('stroke', '#000').attr('stroke-width', 1.4)

const mapLegend = mapPanel.g.append('g')
mapLegend.append('rect')
  .attr('x', 90).attr('y', 284).attr('width', 79).attr('height', 48.7).attr('rx', 2)
  .attr('fill', '#fff').attr('fill-opacity', 0.8).attr('stroke', '#d5d5d5').attr('stroke-width', 1)
mapLegend.append('circle').attr('cx', 104.3).attr('cy', 292.3).attr('r', 2.1).attr('fill', red)
mapLegend.append('circle').attr('cx', 104.3).attr('cy', 308.3).attr('r', 8.3)
  .attr('fill', '#27ae60').attr('stroke', '#000').attr('stroke-width', 1.4)
mapLegend.append('path').attr('d', starPath).attr('transform', 'translate(104.3,323.3)')
  .attr('fill', '#2980b9').attr('stroke', '#000').attr('stroke-width', 1.4)
addText(mapLegend, 'Track', 124.3, 292.3, 10.8, { anchor: 'start' })
addText(mapLegend, 'Launch', 124.3, 308, 10.8, { anchor: 'start' })
addText(mapLegend, 'Last fix', 124.3, 323, 10.8, { anchor: 'start' })

// --- Summary text
const infoG = svg.append('g')
infoLines.forEach(([str, y, size, fill]) => addText(infoG, str, 1214.8, y, size, { fill }))

// --- Wind speed vs time
const timeLeft = d3.scaleUtc().domain([toDate(-1.81), toDate(15.91)]).range([leftCol.x, leftCol.x + leftCol.w])
const windY = d3.scaleLinear().domain([0, 69.5]).range([rows[1] + panelH, rows[1]])
const windPanel = makePanel(leftCol, rows[1], timeLeft, windY, {
  title: 'Wind Speed vs. Time', titleY: 405.5,
  xTicks: tickDates, yTicks: d3.range(0, 61, 10),
  xFormat: formatDay, slanted: true
})
addWindLabel(windPanel.g, 37.5, rows[1] + panelH / 2, -90)

const windArea = d3.area()
  .x(d => timeLeft(toDate(d[0])))
  .y0(d => windY(d[1]))
  .y1(d => windY(d[2]))
windPanel.marks.append('path').datum(windBand)
  .attr('d', windArea)
  .attr('fill', '#95a5a6').attr('fill-opacity', 0.42)
windPanel.marks.selectAll('.wind').data(windPoints).join('circle')
  .attr('cx', d => timeLeft(toDate(d[0]))).attr('cy', d => windY(d[1]))
  .attr('r', 2.2).attr('fill', '#2c3e50')
const windMeanLine = d3.line()
  .x((d, i) => timeLeft(toDate(meanDays[i])))
  .y(d => windY(d))
windPanel.marks.append('path').datum(meanWind)
  .attr('d', windMeanLine)
  .attr('fill', 'none').attr('stroke', red).attr('stroke-width', 1.7)

const windLegend = windPanel.g.append('g')
windLegend.append('rect')
  .attr('x', 621.7).attr('y', 425.7).attr('width', 161.6).attr('height', 49.3).attr('rx', 2)
  .attr('fill', '#fff').attr('fill-opacity', 0.8).attr('stroke', '#d5d5d5').attr('stroke-width', 1)
windLegend.append('rect').attr('x', 625).attr('y', 430).attr('width', 24).attr('height', 9)
  .attr('fill', '#95a5a6').attr('fill-opacity', 0.42)
windLegend.append('circle').attr('cx', 637.3).attr('cy', 450.3).attr('r', 2.2).attr('fill', '#2c3e50')
windLegend.append('line').attr('x1', 624.3).attr('x2', 649).attr('y1', 465).attr('y2', 465)
  .attr('stroke', red).attr('stroke-width', 1.7)
addText(windLegend, '±1σ propagated error', 657.3, 435.3, legendFont, { anchor: 'start' })
addText(windLegend, 'Wind speed', 657.3, 450.3, legendFont, { anchor: 'start' })
addText(windLegend, 'Daily mean', 657.3, 466, legendFont, { anchor: 'start' })

// --- Latitude vs time
const timeRight = d3.scaleUtc().domain([toDate(-1.264), toDate(15.87)]).range([rightCol.x, rightCol.x + rightCol.w])
const latY = d3.scaleLinear().domain([-90, 90]).range([rows[1] + panelH, rows[1]])
const latPanel = makePanel(rightCol, rows[1], timeRight, latY, {
  title: 'Latitude vs. Time', titleY: 405.5,
  xTicks: tickDates, yTicks: mapTicksY,
  xFormat: formatDay, yFormat: signed, slanted: true
})
addText(latPanel.g, 'Latitude (deg)', 809, rows[1] + panelH / 2, tickFont, { rotate: -90 })
latPanel.marks.selectAll('.lat').data(latitudePoints).join('circle')
  .attr('cx', d => timeRight(toDate(d[0]))).attr('cy', d => latY(d[1]))
  .attr('r', 2.4).attr('fill', '#000')

// --- Altitude vs time
const altY = d3.scaleLinear().domain([7004, 11437]).range([rows[2] + panelH, rows[2]])
const altPanel = makePanel(leftCol, rows[2], timeLeft, altY, {
  title: 'Balloon Altitude vs. Time', titleY: 794.6,
  xTicks: tickDates, yTicks: d3.range(7500, 11001, 500),
  xFormat: formatDay, slanted: true
})
addText(altPanel.g, 'Altitude (m AMSL)', 16, rows[2] + panelH / 2, tickFont, { rotate: -90 })
addText(altPanel.g, 'UTC date', leftCol.x + leftCol.w / 2, 1173, tickFont)
altPanel.marks.selectAll('.alt').data(altitudePoints).join('circle')
  .attr('cx', d => timeLeft(toDate(d[0]))).attr('cy', d => altY(d[1]))
  .attr('r', 2.2).attr('fill', '#7f8c8d')
const altMeanLine = d3.line()
  .x((d, i) => timeLeft(toDate(meanDays[i])))
  .y(d => altY(d))
altPanel.marks.append('path').datum(meanAltitude)
  .attr('d', altMeanLine)
  .attr('fill', 'none').attr('stroke', red).attr('stroke-width', 1.7)

// --- Histogram
const histX = d3.scaleLinear().domain([-100, 100]).range([rightCol.x, rightCol.x + rightCol.w])
const histY = d3.scaleLinear().domain([0, 121.8]).range([rows[2] + panelH, rows[2]])
const histPanel = makePanel(rightCol, rows[2], histX, histY, {
  title: 'U and V Wind Components', titleY: 794.6,
  xTicks: d3.range(-100, 101, 25), yTicks: d3.range(0, 121, 20),
  xFormat: signed
})
addText(histPanel.g, 'Frequency', 812, rows[2] + panelH / 2, tickFont, { rotate: -90 })
addWindLabel(histPanel.g, rightCol.x + rightCol.w / 2, 1155)

function drawBars(counts, color) {
  histPanel.marks.append('g').selectAll('rect').data(counts).join('rect')
    .attr('x', (d, i) => histX(histEdges[i]))
    .attr('width', histX(5) - histX(0))
    .attr('y', d => histY(d))
    .attr('height', d => histY(0) - histY(d))
    .attr('fill', color)
    .attr('fill-opacity', 0.65)
    .attr('stroke', '#000')
    .attr('stroke-opacity', d => d > 0 ? 0.7 : 0)
    .attr('stroke-width', 1.1)
}
drawBars(uCounts, '#1f77b4')
drawBars(vCounts, '#ff7f0e')

const histLegend = histPanel.g.append('g')
histLegend.append('rect')
  .attr('x', 1442.3).attr('y', 814.3).attr('width', 119.4).attr('height', 34).attr('rx', 2)
  .attr('fill', '#fff').attr('fill-opacity', 0.8).attr('stroke', '#d5d5d5').attr('stroke-width', 1)
const legendPatches = [['#1f77b4', 820, 'U (zonal)', 824.3], ['#ff7f0e', 834.3, 'V (meridional)', 839]]
legendPatches.forEach(([color, y, label, ty]) => {
  histLegend.append('rect').attr('x', 1446).attr('y', y).attr('width', 22.3).attr('height', 7.6)
    .attr('fill', color).attr('fill-opacity', 0.65).attr('stroke', '#000').attr('stroke-opacity', 0.7).attr('stroke-width', 1.1)
  addText(histLegend, label, 1477.7, ty, legendFont, { anchor: 'start' })
})
</script>
</body>
</html>
